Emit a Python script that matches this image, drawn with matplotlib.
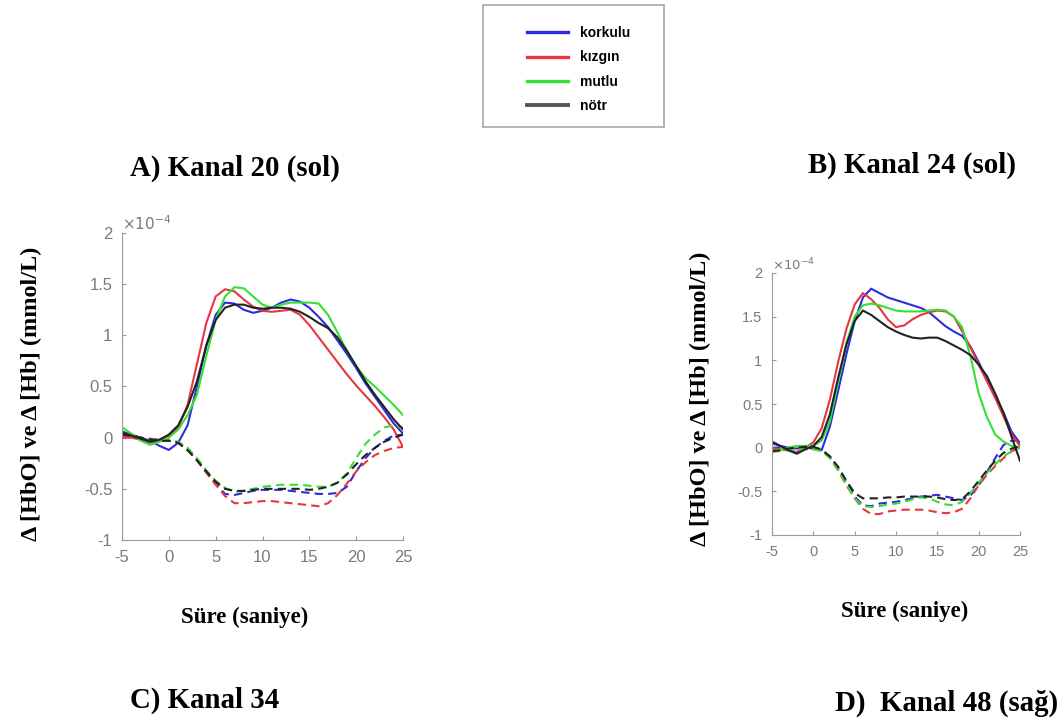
"""Kanal 20 / Kanal 24 HbO-Hb responses per emotion."""

import matplotlib
matplotlib.use("Agg")
import matplotlib.pyplot as plt
from matplotlib.lines import Line2D
import numpy as np

plt.rcParams["axes.unicode_minus"] = False

W, H = 1064, 722

# time axis (s), shared by every series
t = np.arange(-5, 26, 1)

emotions = ["korkulu", "kızgın", "mutlu", "nötr"]
colors = ["#2b2be0", "#e8353f", "#35e035", "#222222"]

# Kanal 20 (sol) -- HbO (solid), units of 1e-4 mmol/L
k20_hbo = {
    "korkulu": [0.06, 0.03, 0.0, -0.03, -0.08, -0.12, -0.05, 0.12, 0.5, 0.9, 1.2, 1.32, 1.31, 1.25, 1.22, 1.24,
                1.27, 1.32, 1.35, 1.33, 1.27, 1.18, 1.08, 0.95, 0.82, 0.68, 0.53, 0.4, 0.27, 0.14, 0.04],
    "kızgın": [0.02, 0.0, -0.02, -0.05, -0.02, 0.02, 0.1, 0.32, 0.72, 1.12, 1.38, 1.45, 1.43, 1.35, 1.28, 1.24,
               1.23, 1.24, 1.25, 1.2, 1.1, 0.98, 0.86, 0.74, 0.62, 0.51, 0.41, 0.31, 0.2, 0.08, -0.09],
    "mutlu": [0.1, 0.04, -0.03, -0.07, -0.04, 0.0, 0.08, 0.22, 0.42, 0.8, 1.15, 1.38, 1.47, 1.46, 1.38, 1.3,
              1.27, 1.3, 1.32, 1.32, 1.32, 1.31, 1.2, 1.03, 0.85, 0.7, 0.58, 0.5, 0.41, 0.32, 0.22],
    "nötr": [0.05, 0.02, -0.01, -0.04, -0.02, 0.03, 0.12, 0.3, 0.55, 0.9, 1.15, 1.27, 1.3, 1.3, 1.27, 1.26,
             1.27, 1.27, 1.26, 1.23, 1.18, 1.12, 1.07, 0.98, 0.85, 0.7, 0.55, 0.42, 0.3, 0.18, 0.08],
}
# Kanal 20 (sol) -- Hb (dashed)
k20_hb = {
    "korkulu": [0.02, 0.01, 0.0, -0.01, -0.02, -0.03, -0.05, -0.12, -0.22, -0.34, -0.45, -0.55, -0.56, -0.54,
                -0.52, -0.51, -0.51, -0.51, -0.52, -0.53, -0.54, -0.55, -0.55, -0.54, -0.48, -0.33, -0.2, -0.1,
                -0.03, 0.02, 0.03],
    "kızgın": [0.0, 0.0, -0.01, -0.02, -0.02, -0.03, -0.05, -0.12, -0.22, -0.34, -0.46, -0.57, -0.64, -0.64,
               -0.63, -0.62, -0.62, -0.63, -0.64, -0.65, -0.66, -0.67, -0.64, -0.56, -0.45, -0.33, -0.24, -0.17,
               -0.13, -0.1, -0.09],
    "mutlu": [0.05, 0.02, 0.0, -0.02, -0.02, -0.02, -0.04, -0.1, -0.2, -0.32, -0.42, -0.49, -0.53, -0.52, -0.5,
              -0.48, -0.47, -0.46, -0.46, -0.46, -0.47, -0.48, -0.48, -0.44, -0.35, -0.2, -0.06, 0.03, 0.1, 0.12,
              0.1],
    "nötr": [0.03, 0.02, 0.0, -0.02, -0.03, -0.03, -0.05, -0.12, -0.22, -0.33, -0.43, -0.5, -0.52, -0.52, -0.51,
             -0.5, -0.5, -0.5, -0.5, -0.5, -0.51, -0.5, -0.48, -0.44, -0.36, -0.26, -0.17, -0.1, -0.04, 0.0, 0.03],
}

# Kanal 24 (sol) -- HbO (solid)
k24_hbo = {
    "korkulu": [0.05, 0.02, 0.0, -0.01, 0.0, -0.01, -0.03, 0.24, 0.65, 1.07, 1.45, 1.72, 1.82, 1.77, 1.72, 1.69,
                1.66, 1.63, 1.6, 1.55, 1.47, 1.39, 1.33, 1.28, 1.16, 0.98, 0.78, 0.58, 0.4, 0.18, 0.05],
    "kızgın": [0.0, -0.02, -0.03, -0.05, 0.0, 0.06, 0.22, 0.55, 0.98, 1.36, 1.64, 1.77, 1.7, 1.6, 1.47, 1.38,
               1.4, 1.47, 1.52, 1.55, 1.57, 1.56, 1.5, 1.33, 1.15, 0.95, 0.76, 0.57, 0.36, 0.15, 0.02],
    "mutlu": [-0.04, -0.02, 0.0, 0.02, 0.02, 0.02, 0.08, 0.3, 0.75, 1.2, 1.5, 1.63, 1.65, 1.63, 1.6, 1.57,
              1.56, 1.56, 1.56, 1.57, 1.58, 1.57, 1.5, 1.38, 1.05, 0.62, 0.35, 0.15, 0.07, 0.02, 0.0],
    "nötr": [0.07, 0.02, -0.03, -0.07, -0.02, 0.02, 0.12, 0.38, 0.8, 1.18, 1.45, 1.57, 1.52, 1.45, 1.38, 1.33,
             1.29, 1.26, 1.25, 1.26, 1.26, 1.22, 1.17, 1.12, 1.06, 0.95, 0.82, 0.62, 0.4, 0.12, -0.15],
}
# Kanal 24 (sol) -- Hb (dashed)
k24_hb = {
    "korkulu": [0.0, 0.0, -0.01, -0.01, -0.01, -0.01, -0.03, -0.1, -0.24, -0.4, -0.56, -0.66, -0.67, -0.64,
                -0.63, -0.62, -0.6, -0.58, -0.56, -0.55, -0.54, -0.56, -0.58, -0.6, -0.55, -0.43, -0.28, -0.12,
                0.03, 0.08, 0.08],
    "kızgın": [-0.02, -0.02, -0.02, -0.01, -0.01, -0.01, -0.03, -0.11, -0.26, -0.43, -0.58, -0.7, -0.76, -0.76,
               -0.73, -0.72, -0.71, -0.71, -0.71, -0.72, -0.74, -0.75, -0.74, -0.7, -0.58, -0.43, -0.31, -0.21,
               -0.12, -0.04, 0.0],
    "mutlu": [-0.05, -0.04, -0.03, -0.02, -0.02, -0.02, -0.04, -0.12, -0.25, -0.42, -0.58, -0.67, -0.68, -0.67,
              -0.65, -0.64, -0.62, -0.59, -0.57, -0.58, -0.62, -0.65, -0.66, -0.62, -0.52, -0.4, -0.29, -0.19,
              -0.1, -0.04, 0.0],
    "nötr": [-0.04, -0.03, -0.01, 0.0, 0.01, 0.01, -0.02, -0.1, -0.22, -0.38, -0.52, -0.58, -0.58, -0.58, -0.57,
             -0.57, -0.56, -0.56, -0.56, -0.56, -0.57, -0.59, -0.6, -0.59, -0.5, -0.38, -0.26, -0.15, -0.06,
             -0.01, 0.02],
}

xticks = [-5, 0, 5, 10, 15, 20, 25]
yticks = [-1, -0.5, 0, 0.5, 1, 1.5, 2]
ytick_labels = ["-1", "-0.5", "0", "0.5", "1", "1.5", "2"]

serif = ["Liberation Serif", "DejaVu Serif"]
tick_grey = "#7a7a7a"
spine_grey = "#9a9a9a"


def px(x, y):
    return x / W, 1 - y / H


def draw_panel(ax, hbo, hb, tick_size):
    for name, c in zip(emotions, colors):
        ax.plot(t, hbo[name], color=c, lw=1.5)
        ax.plot(t, hb[name], color=c, lw=1.5, linestyle=(0, (4, 2.5)))
    ax.set_xlim(-5, 25)
    ax.set_ylim(-1, 2)
    ax.set_xticks(xticks)
    ax.set_yticks(yticks)
    ax.set_yticklabels(ytick_labels)
    for side in ("top", "right"):
        ax.spines[side].set_visible(False)
    for side in ("left", "bottom"):
        ax.spines[side].set_color(spine_grey)
    ax.tick_params(direction="in", length=3, color=spine_grey, labelcolor=tick_grey,
                   labelsize=tick_size, pad=7)
    for lab in ax.get_xticklabels() + ax.get_yticklabels():
        lab.set_family("Liberation Sans")
    ax.text(0.0, 1.0, r"$\times 10^{-4}$", transform=ax.transAxes, color=tick_grey,
            fontsize=tick_size - 1, ha="left", va="bottom")
    ax.set_facecolor("none")


fig = plt.figure(figsize=(W / 100, H / 100), dpi=100, facecolor="white")

ax_a = fig.add_axes([122 / W, 1 - 540 / H, 281 / W, 307 / H])
draw_panel(ax_a, k20_hbo, k20_hb, 12)

ax_b = fig.add_axes([772 / W, 1 - 535 / H, 248 / W, 262 / H])
draw_panel(ax_b, k24_hbo, k24_hb, 10.5)

# legend in its own framed box
lax = fig.add_axes([483 / W, 1 - 127 / H, 181 / W, 122 / H])
lax.set_xticks([])
lax.set_yticks([])
for s in lax.spines.values():
    s.set_color("#a8a8a8")
    s.set_linewidth(1.2)
handles = [Line2D([], [], color=c, lw=2.4) for c in colors[:3]] + [Line2D([], [], color="#555555", lw=2.8)]
lax.legend(handles, emotions, loc="center", bbox_to_anchor=(0.53, 0.47), frameon=False,
           handlelength=2.9, handletextpad=0.9, labelspacing=0.75,
           prop={"family": "Liberation Sans", "weight": "bold", "size": 10})

# panel captions and axis labels
for txt, x, y in [("A) Kanal 20 (sol)", 130, 168), ("B) Kanal 24 (sol)", 808, 165),
                  ("C) Kanal 34", 130, 700), ("D)  Kanal 48 (sağ)", 835, 703)]:
    fig.text(*px(x, y), txt, family=serif, weight="bold", fontsize=20.8, ha="left", va="center")

for x, y in [(245, 617), (905, 611)]:
    fig.text(*px(x, y), "Süre (saniye)", family=serif, weight="bold", fontsize=16.5, ha="center", va="center")

for x, y in [(31, 394), (700, 399)]:
    fig.text(*px(x, y), "Δ [HbO] ve Δ [Hb] (mmol/L)", family=serif, weight="bold", fontsize=17.5,
             rotation=90, ha="center", va="center")

fig.savefig("out.png", dpi=100, facecolor="white")
